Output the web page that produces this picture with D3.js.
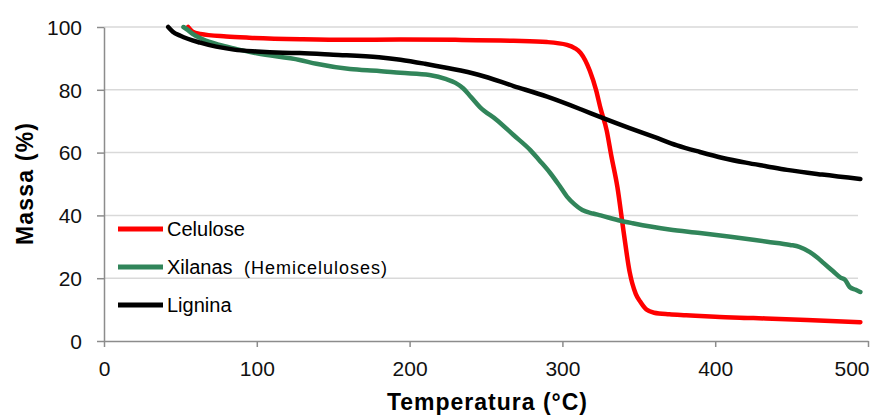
<!DOCTYPE html>
<html><head><meta charset="utf-8">
<script src="https://cdn.jsdelivr.net/npm/d3@7"></script>
<style>body{margin:0;background:#fff}svg{display:block}text{font-family:"Liberation Sans",Arial,sans-serif}</style>
</head><body><svg id="c" width="873" height="417"></svg>
<script>
const xTicks = [0,100,200,300,400,500];
const yTicks = [0,20,40,60,80,100];
const seriesNames = ["Celulose","Xilanas","Lignina"];
const seriesColors = ["#ff0000","#31855a","#000000"];

const celuloseT = [55,58,63,80,95,130,160,194,230,268,290,303,308,312,318,322,325,329,332,336,340,344,348,351,355,360,370,381,400,425,460,495];
const celuloseM = [100,98.5,97.8,97,96.6,96.1,95.9,96,95.9,95.6,95.2,94.3,93.3,91.7,86,80,74,67,59,49,35,22,15,12.5,10,9,8.5,8.2,7.7,7.3,6.7,6];

const xilanasT = [52,55,58,65,75,85,100,128,139,161,180,194,213,224,230,235,240,246,257,268,279,285,292,298,303,308,313,320,325,338,346,370,390,410,434,449,455,462,467,471,477,482,485,488,492,495];
const xilanasM = [100,99,97.8,96,94.4,93.2,91.6,89.5,88.3,86.6,86,85.4,84.7,83.4,82.2,80.5,77.8,74.5,70.4,65.6,60.8,57.5,53.5,49.5,46,43.5,41.7,40.6,40,38.3,37.5,35.5,34.4,33.2,31.6,30.6,30,28.3,26.5,24.8,22.3,20.2,19.5,17.2,16.3,15.6];

const ligninaT = [42,45,50,63,85,100,117,128,150,180,194,210,224,245,268,290,312,325,344,360,375,390,405,420,434,447,470,495];
const ligninaM = [100,98.5,97.2,95,92.8,92.2,91.8,91.7,91.2,90.4,89.6,88.3,87,84.8,81.2,77.8,73.8,71.3,67.8,65,62.3,60.2,58.3,56.8,55.6,54.5,53,51.6];

const series = [
  {name:seriesNames[0], color:seriesColors[0], T:celuloseT, M:celuloseM},
  {name:seriesNames[1], color:seriesColors[1], T:xilanasT, M:xilanasM},
  {name:seriesNames[2], color:seriesColors[2], T:ligninaT, M:ligninaM}
];

const svg = d3.select("#c");
const x = d3.scaleLinear().domain([0,500]).range([104,868]);
const y = d3.scaleLinear().domain([0,100]).range([341,27]);

// gridlines
svg.append("g").selectAll("line").data(yTicks.filter(d=>d>0)).join("line")
  .attr("x1",x(0)).attr("x2",858).attr("y1",d=>y(d)).attr("y2",d=>y(d))
  .attr("stroke","#d9d9d9").attr("stroke-width",1.5);

const axisColor = "#8c8c8c";
const gy = svg.append("g").attr("transform",`translate(${x(0)},0)`)
  .call(d3.axisLeft(y).tickValues(yTicks).tickSize(7).tickPadding(15).tickSizeOuter(0));
const gx = svg.append("g").attr("transform",`translate(0,${y(0)})`)
  .call(d3.axisBottom(x).tickValues(xTicks).tickSize(6).tickPadding(14).tickSizeOuter(0));
[gx,gy].forEach(g=>{
  g.select(".domain").attr("stroke",axisColor).attr("stroke-width",1.5);
  g.selectAll(".tick line").attr("stroke",axisColor).attr("stroke-width",1.5);
  g.selectAll(".tick text").attr("font-size",21).attr("fill","#111")
    .attr("font-family","'Liberation Sans',Arial,sans-serif");
});
gy.selectAll(".tick text").attr("dy","0.35em");
// last x label shifted inside the frame, as in the reference
gx.selectAll(".tick").filter(d=>d===500).select("text").attr("text-anchor","end").attr("x",1);

const line = d3.line().x(d=>x(d[0])).y(d=>y(d[1])).curve(d3.curveMonotoneX);
svg.append("g").selectAll("path").data(series).join("path")
  .attr("d",s=>line(s.T.map((t,i)=>[t,s.M[i]])))
  .attr("fill","none").attr("stroke",s=>s.color).attr("stroke-width",4.5)
  .attr("stroke-linejoin","round").attr("stroke-linecap","round");

// legend
const legY = [229,267,305];
const lg = svg.append("g");
series.forEach((s,i)=>{
  lg.append("line").attr("x1",118).attr("x2",163).attr("y1",legY[i]).attr("y2",legY[i])
    .attr("stroke",s.color).attr("stroke-width",5);
  lg.append("text").attr("x",167).attr("y",legY[i]+7).attr("font-size",20).attr("fill","#000").text(s.name);
});
lg.append("text").attr("x",244).attr("y",legY[1]+7).attr("font-size",18).attr("fill","#000")
  .attr("textLength",143).attr("lengthAdjust","spacing").text("(Hemiceluloses)");

// axis titles
svg.append("text").attr("x",487).attr("y",410).attr("text-anchor","middle")
  .attr("font-size",23).attr("font-weight","bold").attr("textLength",200).attr("lengthAdjust","spacing")
  .text("Temperatura (°C)");
svg.append("text").attr("transform","translate(33,184) rotate(-90)").attr("text-anchor","middle")
  .attr("font-size",23).attr("font-weight","bold").attr("textLength",122).attr("lengthAdjust","spacing")
  .text("Massa (%)");
</script></body></html>
